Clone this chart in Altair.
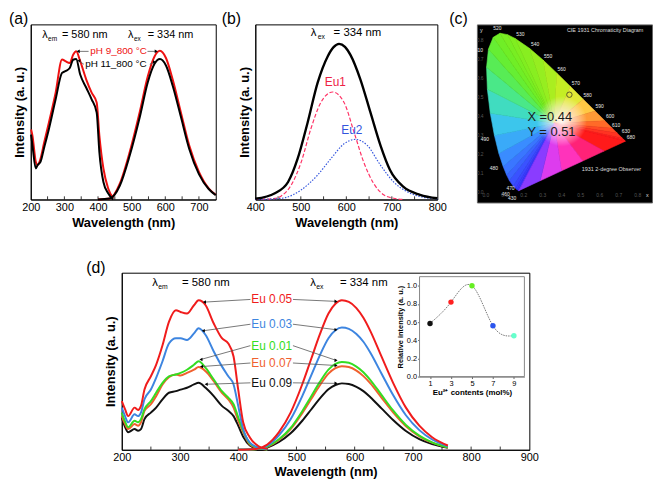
import altair as alt
import pandas as pd

FONT = "Liberation Sans"

# ======================= (a) data =======================
a_ex_nm = [201, 205, 215, 220, 229, 239, 254, 274, 293, 303, 316, 326, 335, 347, 365, 381, 396, 404, 416, 430, 445]
a_ex_ph9 = [0.40, 0.365, 0.215, 0.196, 0.233, 0.318, 0.44, 0.61, 0.80, 0.79, 0.78, 0.826, 0.846, 0.79, 0.685, 0.61, 0.554, 0.365, 0.177, 0.064, 0.007]
a_ex_ph11 = [0.37, 0.31, 0.177, 0.196, 0.215, 0.29, 0.403, 0.572, 0.723, 0.733, 0.751, 0.798, 0.802, 0.714, 0.638, 0.572, 0.497, 0.271, 0.10, 0.036, 0.0]
a_em_nm = [400, 435, 465, 494, 524, 548, 568, 584, 602, 622, 646, 671, 700, 729, 750]
a_em_ph9 = [0.0, 0.006, 0.092, 0.27, 0.50, 0.704, 0.817, 0.849, 0.808, 0.685, 0.50, 0.309, 0.158, 0.064, 0.027]
a_em_ph11 = [0.0, 0.006, 0.08, 0.25, 0.47, 0.67, 0.775, 0.802, 0.765, 0.65, 0.475, 0.29, 0.145, 0.06, 0.025]
a_lab_text = ["pH 9_800 °C", "pH 11_800 °C"]
a_lab_nm = [377, 362]
a_lab_val = [0.846, 0.772]
a_lab_col = ["#ee1111", "black"]
a_ar_x0 = [372, 547, 358, 554]
a_ar_y0 = [0.846, 0.846, 0.772, 0.772]
a_ar_x1 = [341, 573, 343, 568]
a_ar_y1 = [0.846, 0.846, 0.792, 0.785]
a_ar_shp = ["triangle-left", "triangle-right", "triangle-left", "triangle-right"]
a_lam_nm = [234, 489]
a_lam_val = [0.94, 0.94]
a_lam_sub = ["em", "ex"]
a_lam_rest = ["= 580 nm", "= 334 nm"]
a_ticks = [250, 300, 350, 400, 450, 500, 550, 600, 650, 700]

# ======================= (b) data =======================
b_tot_nm = [400, 443, 472, 493, 515, 537, 559, 572, 584, 597, 609, 631, 653, 675, 696, 725, 762, 800]
b_tot = [0.004, 0.036, 0.10, 0.233, 0.44, 0.667, 0.817, 0.870, 0.889, 0.872, 0.826, 0.685, 0.497, 0.309, 0.168, 0.073, 0.027, 0.007]
b_eu1_nm = [400, 440, 457, 479, 501, 522, 544, 570, 595, 617, 638, 660, 682, 704, 725]
b_eu1 = [0.0, 0.005, 0.02, 0.083, 0.215, 0.403, 0.554, 0.614, 0.554, 0.384, 0.215, 0.092, 0.027, 0.007, 0.0]
b_eu2_nm = [400, 440, 465, 501, 537, 566, 595, 620, 646, 675, 704, 733, 769, 800]
b_eu2 = [0.0, 0.003, 0.01, 0.055, 0.14, 0.233, 0.318, 0.343, 0.309, 0.196, 0.10, 0.045, 0.013, 0.004]
b_lab_text = ["Eu1", "Eu2"]
b_lab_nm = [576, 612]
b_lab_val = [0.672, 0.395]
b_lab_col = ["#ee2244", "#3355dd"]
b_lam_nm = [522]
b_lam_val = [0.949]
b_lam_sub = ["ex"]
b_lam_rest = ["= 334 nm"]
b_ticks = [450, 500, 550, 600, 650, 700, 750]

# ======================= (c) data (CIE 1931) =======================
locus_nm = [380, 420, 440, 450, 460, 470, 475, 480, 485, 490, 495, 500, 505, 510, 515, 520, 525, 530, 540, 550, 560, 570, 580, 590, 600, 610, 620, 640, 660, 700]
locus_x = [0.1741, 0.1714, 0.1644, 0.1566, 0.1440, 0.1241, 0.1096, 0.0913, 0.0687, 0.0454, 0.0235, 0.0082, 0.0039, 0.0139, 0.0389, 0.0743, 0.1142, 0.1547, 0.2296, 0.3016, 0.3731, 0.4441, 0.5125, 0.5752, 0.6270, 0.6658, 0.6915, 0.7190, 0.7300, 0.7347]
locus_y = [0.0050, 0.0051, 0.0109, 0.0177, 0.0297, 0.0578, 0.0868, 0.1327, 0.2007, 0.2950, 0.4127, 0.5384, 0.6548, 0.7502, 0.8120, 0.8338, 0.8262, 0.8059, 0.7543, 0.6923, 0.6245, 0.5547, 0.4866, 0.4242, 0.3725, 0.3340, 0.3083, 0.2809, 0.2700, 0.2653]
locus_col = ["#3b30ff", "#3b33ff", "#3a3aff", "#3a44ff", "#3a52ff", "#3a64ff", "#3a76ff", "#3a8cff", "#3aaaf8", "#3cc6ec", "#40dcc0", "#4ae888", "#58ec55", "#66ee33", "#70ee26", "#78ee22", "#80ee20", "#88ee20", "#96ee20", "#aaee20", "#c4ee24", "#e2e836", "#ffc844", "#ff9a36", "#ff6a28", "#ff4a24", "#ff3322", "#ff2420", "#ff1c1c", "#ff1a1a"]
purple_x = [0.6226, 0.5104, 0.3983, 0.2862]
purple_y = [0.2133, 0.1612, 0.1092, 0.0571]
purple_col = ["#ff2277", "#ff33bb", "#dd3cee", "#8a3cff"]
white_pt = [0.36, 0.36]
cie_lab_text = ["520", "530", "540", "550", "560", "570", "580", "590", "600", "610", "630", "680", "510", "490", "480", "470", "460", "430"]
cie_lab_x = [0.061, 0.182, 0.26, 0.328, 0.399, 0.474, 0.536, 0.599, 0.655, 0.686, 0.738, 0.764, -0.036, -0.005, 0.042, 0.13, 0.104, 0.139]
cie_lab_y = [0.859, 0.830, 0.778, 0.714, 0.646, 0.573, 0.507, 0.448, 0.396, 0.351, 0.318, 0.286, 0.746, 0.278, 0.122, 0.017, -0.014, -0.036]
cie_tick = ["0.0", "0.1", "0.2", "0.3", "0.4", "0.5", "0.6", "0.7", "0.8"]
cie_tick_v = [0.0, 0.1, 0.2, 0.3, 0.4, 0.5, 0.6, 0.7, 0.8]
cie_point = [0.44, 0.51]

# ======================= (d) data =======================
d_ex_nm = [200, 205.6, 211, 222, 228, 233, 239, 250, 259, 270, 281, 293, 301, 312, 324, 332, 344, 358, 372, 383, 392, 400, 408.5, 420, 435, 450]
d_ex = {
    "Eu 0.05": [0.275, 0.229, 0.19, 0.238, 0.225, 0.248, 0.34, 0.415, 0.48, 0.59, 0.722, 0.788, 0.778, 0.769, 0.816, 0.844, 0.816, 0.713, 0.63, 0.60, 0.527, 0.34, 0.155, 0.07, 0.02, 0.005],
    "Eu 0.03": [0.238, 0.19, 0.155, 0.20, 0.19, 0.21, 0.285, 0.34, 0.406, 0.50, 0.60, 0.63, 0.63, 0.62, 0.657, 0.686, 0.648, 0.555, 0.471, 0.415, 0.369, 0.248, 0.117, 0.04, 0.012, 0.003],
    "Eu 0.01": [0.21, 0.16, 0.127, 0.164, 0.155, 0.173, 0.229, 0.275, 0.322, 0.378, 0.415, 0.425, 0.434, 0.452, 0.48, 0.50, 0.462, 0.397, 0.331, 0.294, 0.257, 0.183, 0.108, 0.035, 0.01, 0.002],
    "Eu 0.07": [0.19, 0.145, 0.117, 0.145, 0.136, 0.155, 0.22, 0.257, 0.303, 0.369, 0.41, 0.425, 0.419, 0.434, 0.452, 0.467, 0.443, 0.387, 0.322, 0.285, 0.238, 0.164, 0.099, 0.03, 0.008, 0.002],
    "Eu 0.09": [0.183, 0.13, 0.099, 0.117, 0.108, 0.117, 0.173, 0.21, 0.238, 0.285, 0.322, 0.331, 0.34, 0.35, 0.369, 0.378, 0.35, 0.303, 0.248, 0.22, 0.19, 0.136, 0.074, 0.025, 0.006, 0.0],
}
d_em_nm = [400, 430, 450, 470, 490, 510, 525, 540, 555, 567, 578, 590, 603, 615, 627, 646, 666, 688, 711, 733, 760]
d_em = {
    "Eu 0.05": [0.0, 0.005, 0.03, 0.10, 0.21, 0.37, 0.51, 0.65, 0.77, 0.825, 0.844, 0.835, 0.80, 0.745, 0.67, 0.527, 0.378, 0.238, 0.136, 0.071, 0.024],
    "Eu 0.03": [0.0, 0.004, 0.024, 0.082, 0.172, 0.303, 0.417, 0.532, 0.63, 0.675, 0.69, 0.683, 0.654, 0.61, 0.548, 0.431, 0.309, 0.195, 0.111, 0.058, 0.02],
    "Eu 0.01": [0.0, 0.003, 0.018, 0.059, 0.123, 0.218, 0.30, 0.382, 0.453, 0.485, 0.496, 0.491, 0.47, 0.438, 0.394, 0.31, 0.222, 0.14, 0.08, 0.042, 0.014],
    "Eu 0.07": [0.0, 0.003, 0.017, 0.056, 0.117, 0.207, 0.285, 0.363, 0.43, 0.461, 0.472, 0.467, 0.447, 0.416, 0.375, 0.295, 0.211, 0.133, 0.076, 0.04, 0.013],
    "Eu 0.09": [0.0, 0.002, 0.013, 0.044, 0.093, 0.164, 0.226, 0.289, 0.342, 0.366, 0.375, 0.371, 0.355, 0.331, 0.297, 0.234, 0.168, 0.106, 0.06, 0.032, 0.011],
}
d_series = ["Eu 0.05", "Eu 0.03", "Eu 0.01", "Eu 0.07", "Eu 0.09"]
d_colors = ["#f01c1c", "#3d85e0", "#33dd22", "#f0602e", "#111111"]
d_draw_order = ["Eu 0.09", "Eu 0.07", "Eu 0.01", "Eu 0.03", "Eu 0.05"]
d_lab_nm = [457.6, 457.6, 457.6, 457.6, 457.6]
d_lab_val = [0.849, 0.709, 0.588, 0.49, 0.378]
d_ar_x0 = [421, 494, 421, 494, 421, 494, 421, 494, 421, 494]
d_ar_y0 = [0.849, 0.849, 0.709, 0.709, 0.588, 0.588, 0.49, 0.49, 0.378, 0.378]
d_ar_x1 = [342, 568, 340, 568, 336, 568, 337, 568, 345, 568]
d_ar_y1 = [0.834, 0.838, 0.672, 0.678, 0.51, 0.505, 0.47, 0.476, 0.37, 0.375]
d_ar_shp = ["triangle-left", "triangle-right"] * 5
d_lam_nm = [252.5, 523.7]
d_lam_val = [0.94, 0.94]
d_lam_sub = ["em", "ex"]
d_lam_rest = ["= 580 nm", "= 334 nm"]
d_ticks = [250, 300, 350, 400, 450, 500, 550, 600, 650, 700, 750, 800, 850]

# inset
ins_x = [1, 3, 5, 7, 9]
ins_y = [0.585, 0.82, 1.0, 0.56, 0.45]
ins_col = ["#111111", "#ff2020", "#66ee22", "#2a55ee", "#66ffcc"]


# ======================= helpers =======================
def make_xy(xdom, xvals, lsize=11, tsize=13, tpad=4, ytpad=4):
    xax = alt.Axis(values=xvals, title="Wavelength (nm)", labelFontSize=lsize, titleFontSize=tsize,
                   titleFontWeight="bold", ticks=False, labelPadding=2, titlePadding=tpad,
                   labelFlush=False, labelOverlap=False, grid=False)
    yax = alt.Axis(labels=False, ticks=False, title="Intensity (a. u.)", titleFontSize=tsize,
                   titleFontWeight="bold", titlePadding=ytpad, grid=False)
    xs = alt.Scale(domain=list(xdom), nice=False, zero=False)
    ys = alt.Scale(domain=[0, 1], nice=False, zero=False)

    def X(f="nm"):
        return alt.X(f"{f}:Q", scale=xs, axis=xax)

    def Y(f="val"):
        return alt.Y(f"{f}:Q", scale=ys, axis=yax)
    return X, Y


def curve(nm, vals, seg, X, Y, color, width=2.0, dash=None):
    df = pd.DataFrame({"nm": nm, "val": vals, "seg": seg})
    kw = dict(color=color, strokeWidth=width, interpolate="monotone")
    if dash is not None:
        kw["strokeDash"] = dash
    return alt.Chart(df).mark_line(**kw).encode(x=X(), y=Y(), detail="seg:N")


def inticks(vals, X, Y, h=0.018):
    df = pd.DataFrame({"nm": vals, "val": [0.0] * len(vals), "val2": [h] * len(vals)})
    return alt.Chart(df).mark_rule(color="black", strokeWidth=0.8).encode(x=X(), y=Y(), y2=alt.Y2("val2:Q"))


def arrows(x0, y0, x1, y1, shp, X, Y):
    df = pd.DataFrame({"x0": x0, "y0": y0, "x1": x1, "y1": y1, "shp": shp})
    r = alt.Chart(df).mark_rule(color="#555555", strokeWidth=0.8).encode(
        x=X("x0"), y=Y("y0"), x2=alt.X2("x1:Q"), y2=alt.Y2("y1:Q"))
    h = alt.Chart(df).mark_point(filled=True, color="black", size=13, opacity=1, strokeWidth=0).encode(
        x=X("x1"), y=Y("y1"), shape=alt.Shape("shp:N", scale=None))
    return r + h


def labels(nm, val, text, col, X, Y, size):
    df = pd.DataFrame({"nm": nm, "val": val, "t": text, "c": col})
    return alt.Chart(df).mark_text(align="center", baseline="middle", fontSize=size, font=FONT).encode(
        x=X(), y=Y(), text="t:N", color=alt.Color("c:N", scale=None))


def lam(nm, val, sub, rest, X, Y, size=11.5, subdx=6, restdx=20):
    df = pd.DataFrame({"nm": nm, "val": val, "sub": sub, "rest": rest})
    base = alt.Chart(df)
    l1 = base.mark_text(text="λ", align="left", baseline="middle", fontSize=size, font=FONT, color="black").encode(x=X(), y=Y())
    l2 = base.mark_text(align="left", baseline="middle", fontSize=size * 0.6, font=FONT, color="black",
                        dx=subdx, dy=4).encode(x=X(), y=Y(), text="sub:N")
    l3 = base.mark_text(align="left", baseline="middle", fontSize=size, font=FONT, color="black",
                        dx=restdx).encode(x=X(), y=Y(), text="rest:N")
    return l1 + l2 + l3


def ptitle(t, dx):
    return alt.TitleParams(text=t, anchor="start", frame="group", fontSize=16, fontWeight="normal",
                           font=FONT, dx=dx, offset=-3, color="black")


# ======================= (a) =======================
Xa, Ya = make_xy([200, 750], [200, 300, 400, 500, 600, 700])
pa = alt.layer(
    inticks(a_ticks, Xa, Ya),
    curve(a_ex_nm, a_ex_ph9, ["ex"] * len(a_ex_nm), Xa, Ya, "#ee1111"),
    curve(a_em_nm, a_em_ph9, ["em"] * len(a_em_nm), Xa, Ya, "#ee1111"),
    curve(a_ex_nm, a_ex_ph11, ["ex"] * len(a_ex_nm), Xa, Ya, "black"),
    curve(a_em_nm, a_em_ph11, ["em"] * len(a_em_nm), Xa, Ya, "black"),
    arrows(a_ar_x0, a_ar_y0, a_ar_x1, a_ar_y1, a_ar_shp, Xa, Ya),
    alt.Chart(pd.DataFrame({"nm": a_lab_nm, "val": a_lab_val, "t": a_lab_text, "c": a_lab_col})).mark_text(
        align="left", baseline="middle", fontSize=10, font=FONT).encode(
        x=Xa(), y=Ya(), text="t:N", color=alt.Color("c:N", scale=None)),
    lam(a_lam_nm, a_lam_val, a_lam_sub, a_lam_rest, Xa, Ya, size=11, subdx=6, restdx=20),
).properties(width=187, height=177, title=ptitle("(a)", -22))

# ======================= (b) =======================
Xb, Yb = make_xy([400, 800], [400, 500, 600, 700, 800])
pb = alt.layer(
    inticks(b_ticks, Xb, Yb),
    curve(b_eu1_nm, b_eu1, ["e1"] * len(b_eu1_nm), Xb, Yb, "#ff3366", width=1.2, dash=[4, 2]),
    curve(b_eu2_nm, b_eu2, ["e2"] * len(b_eu2_nm), Xb, Yb, "#3355dd", width=1.2, dash=[1.5, 1.5]),
    curve(b_tot_nm, b_tot, ["t"] * len(b_tot_nm), Xb, Yb, "black", width=2.4),
    labels(b_lab_nm, b_lab_val, b_lab_text, b_lab_col, Xb, Yb, 12),
    lam(b_lam_nm, b_lam_val, b_lam_sub, b_lam_rest, Xb, Yb, size=11.5, subdx=7, restdx=23),
).properties(width=184, height=177, title=ptitle("(b)", -34))

# ======================= (c) =======================
proj = alt.Projection(type="identity", reflectY=True, scale=192, translate=[9, 169])
ring = [[x, y] for x, y in zip(locus_x, locus_y)] + [[x, y] for x, y in zip(purple_x, purple_y)] + [[locus_x[0], locus_y[0]]]
ring_col = locus_col + purple_col
feats = []
for i in range(len(ring) - 1):
    feats.append({"type": "Feature", "properties": {"c": ring_col[i]},
                  "geometry": {"type": "Polygon", "coordinates": [[white_pt, ring[i], ring[i + 1], white_pt]]}})
fan = alt.Chart(alt.Data(values=feats)).mark_geoshape(strokeWidth=0.6).encode(
    fill=alt.Fill("properties.c:N", scale=None), stroke=alt.Stroke("properties.c:N", scale=None)).project(**proj.to_dict())
glow = alt.Chart(pd.DataFrame({"x": [0.40], "y": [0.37]})).mark_circle(
    size=2600, opacity=1,
    fill=alt.RadialGradient(gradient="radial", stops=[
        alt.GradientStop(color="rgba(255,255,255,0.95)", offset=0),
        alt.GradientStop(color="rgba(255,235,240,0.55)", offset=0.55),
        alt.GradientStop(color="rgba(255,255,255,0)", offset=1)])).encode(
    longitude="x:Q", latitude="y:Q").project(**proj.to_dict())
wl = alt.Chart(pd.DataFrame({"x": cie_lab_x, "y": cie_lab_y, "t": cie_lab_text})).mark_text(
    fontSize=5, color="#e8e8e8", font=FONT).encode(longitude="x:Q", latitude="y:Q", text="t:N").project(**proj.to_dict())
xt = alt.Chart(pd.DataFrame({"x": cie_tick_v, "y": [-0.017] * 9, "t": cie_tick})).mark_text(
    fontSize=5, color="#555555", font=FONT).encode(longitude="x:Q", latitude="y:Q", text="t:N").project(**proj.to_dict())
yt = alt.Chart(pd.DataFrame({"x": [-0.03] * 9, "y": cie_tick_v, "t": cie_tick})).mark_text(
    fontSize=5, color="#555555", font=FONT).encode(longitude="x:Q", latitude="y:Q", text="t:N").project(**proj.to_dict())
ctxt = alt.Chart(pd.DataFrame({"x": [0.427, 0.505, 0.844, -0.031], "y": [0.849, 0.12, -0.016, 0.849],
                               "t": ["CIE 1931 Chromaticity Diagram", "1931 2-degree Observer", "x", "y"]})).mark_text(
    fontSize=5.5, color="#dddddd", font=FONT, align="left").encode(longitude="x:Q", latitude="y:Q", text="t:N").project(**proj.to_dict())
xy_txt = alt.Chart(pd.DataFrame({"x": [0.219, 0.219], "y": [0.39, 0.3125],
                                 "t": ["X =0.44", "Y = 0.51"]})).mark_text(
    fontSize=13, color="#1a1a1a", font=FONT, align="left", baseline="middle").encode(
    longitude="x:Q", latitude="y:Q", text="t:N").project(**proj.to_dict())
cpt = alt.Chart(pd.DataFrame({"x": [cie_point[0]], "y": [cie_point[1]]})).mark_point(
    size=30, color="#222222", strokeWidth=1, filled=False).encode(longitude="x:Q", latitude="y:Q").project(**proj.to_dict())
pc = alt.layer(fan, glow, wl, xt, yt, ctxt, xy_txt, cpt).properties(
    width=177, height=180, title=ptitle("(c)", -28),
    view=alt.ViewBackground(fill="black", stroke="#666666"))

# ======================= (d) =======================
Xd, Yd = make_xy([200, 900], [200, 300, 400, 500, 600, 700, 800, 900], lsize=11, tsize=13, tpad=3, ytpad=4)
cmap = dict(zip(d_series, d_colors))
d_layers = [inticks(d_ticks, Xd, Yd)]
for s in d_draw_order:
    d_layers.append(curve(d_ex_nm, d_ex[s], ["ex"] * len(d_ex_nm), Xd, Yd, cmap[s], width=2.0))
    d_layers.append(curve(d_em_nm, d_em[s], ["em"] * len(d_em_nm), Xd, Yd, cmap[s], width=2.0))
d_main = alt.layer(
    *d_layers,
    arrows(d_ar_x0, d_ar_y0, d_ar_x1, d_ar_y1, d_ar_shp, Xd, Yd),
    labels(d_lab_nm, d_lab_val, d_series, d_colors, Xd, Yd, 12),
    lam(d_lam_nm, d_lam_val, d_lam_sub, d_lam_rest, Xd, Yd, size=11.5, subdx=6, restdx=30),
)

ixs = alt.Scale(domain=[0, 10], range=[301, 407], nice=False, zero=False)
iys = alt.Scale(domain=[0, 1.1], range=[105, 4], nice=False, zero=False)
ixax = alt.Axis(orient="bottom", offset=-74, values=ins_x, title="Eu²⁺ contents (mol%)", labelFontSize=7.5,
                titleFontSize=8, titleFontWeight="bold", tickSize=2, labelPadding=1, titlePadding=2,
                domainColor="#666666", tickColor="#666666", grid=False)
iyax = alt.Axis(orient="left", offset=-301, values=[0, 0.2, 0.4, 0.6, 0.8, 1.0], format=".1f",
                title="Relative intensity (a. u.)", labelFontSize=7.5, titleFontSize=7.5, titleFontWeight="bold",
                tickSize=2, labelPadding=1, titlePadding=2, domainColor="#666666", tickColor="#666666", grid=False)
frame = alt.Chart(pd.DataFrame({"ix": [0], "ix2": [10], "iy": [0], "iy2": [1.1]})).mark_rect(
    fill="white", stroke="#888888", strokeWidth=1).encode(
    x=alt.X("ix:Q", scale=ixs, axis=ixax), x2="ix2:Q", y=alt.Y("iy:Q", scale=iys, axis=iyax), y2="iy2:Q")
ins_df = pd.DataFrame({"ix": ins_x, "iy": ins_y, "c": ins_col})
icurve = alt.Chart(ins_df).mark_line(color="#777777", strokeWidth=1, strokeDash=[1.5, 1], interpolate="natural").encode(
    x=alt.X("ix:Q", scale=ixs, axis=ixax), y=alt.Y("iy:Q", scale=iys, axis=iyax))
ipts = alt.Chart(ins_df).mark_circle(size=30, opacity=1).encode(
    x=alt.X("ix:Q", scale=ixs, axis=ixax), y=alt.Y("iy:Q", scale=iys, axis=iyax), color=alt.Color("c:N", scale=None))
inset = alt.layer(frame, icurve, ipts)

pd_ = alt.layer(d_main, inset).resolve_scale(x="independent", y="independent").properties(
    width=412, height=179, title=ptitle("(d)", -36))

spacer = alt.Chart(pd.DataFrame({"s": [0]})).mark_point(opacity=0).encode(
    x=alt.X("s:Q", axis=None), y=alt.Y("s:Q", axis=None)).properties(
    width=92, height=20, view=alt.ViewBackground(stroke="transparent"))

row1 = alt.hconcat(pa, pb, pc, spacing=40, bounds="flush")
row2 = alt.hconcat(spacer, pd_, spacing=0, bounds="flush")
chart = alt.vconcat(row1, row2, spacing=251, bounds="flush").properties(padding=0).configure_view(
    stroke="black", strokeWidth=1).configure_axis(
    labelFont=FONT, titleFont=FONT, labelColor="black", titleColor="black", domainColor="black", grid=False).configure_text(
    font=FONT).configure_title(font=FONT)

chart.save("out.html", embed_options={"renderer": "svg", "actions": False})
